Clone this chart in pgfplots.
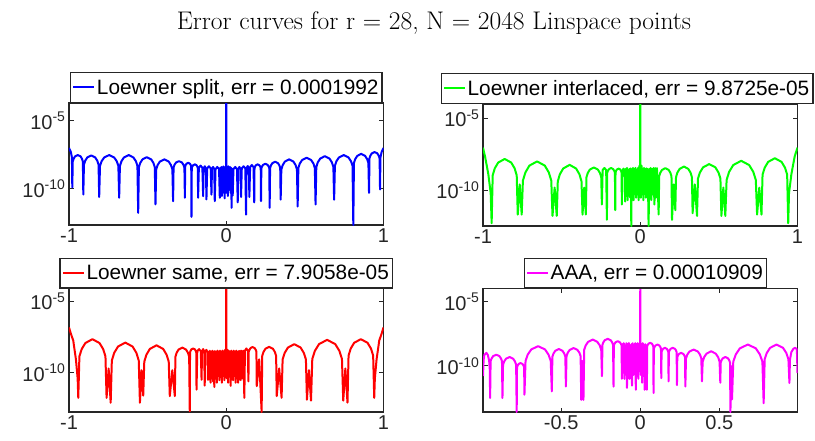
\documentclass[border=0pt]{standalone}
\usepackage{fontspec}
\setsansfont{Liberation Sans}
\usepackage{pgfplots}
\pgfplotsset{compat=1.18}
\definecolor{axc}{rgb}{0.15,0.15,0.15}
\definecolor{mblue}{rgb}{0,0,1}
\definecolor{mgreen}{rgb}{0,1,0}
\definecolor{mred}{rgb}{1,0,0}
\definecolor{mmag}{rgb}{1,0,1}
\pgfplotsset{
  every axis/.append style={
    scale only axis, width=314.5pt,
    yminorticks=false, xminorticks=false,
    axis line style={draw=axc, line width=1.4pt},
    tick style={draw=axc, line width=1pt},
    major tick length=4.5pt,
    tick label style={font=\sffamily\fontsize{20}{24}\selectfont, text=axc},
    legend cell align=left,
  },
  every axis legend/.append style={font=\sffamily\fontsize{20.8}{24}\selectfont, draw=axc, line width=1.3pt, fill=white, inner sep=2pt, nodes={inner xsep=1.5pt, inner ysep=4.8pt}},
  legend image code/.code={\draw[#1,mark=none] (0pt,0pt) -- (21pt,0pt);},
}
\begin{document}
\begin{tikzpicture}
\useasboundingbox (0pt,0pt) rectangle (815pt,-441pt);
\node[font=\rmfamily\fontsize{25.5}{30}\selectfont, anchor=base] at (434pt,-30pt) {Error curves for r = 28, N = 2048 Linspace points};

% ---------------- top left: Loewner split ----------------
\begin{axis}[ymode=log, at={(69pt,-225pt)}, anchor=south west, height=122pt,
  xmin=-1, xmax=1, ymin=2.2e-13, ymax=1.992e-4,
  ytick={1e-10,1e-5}, yticklabels={10\textsuperscript{-10},10\textsuperscript{-5}},
  xtick={-1,0,1}, xticklabels={-1,0,1},
  legend style={at={(0.5,1)}, anchor=south}]
\addplot[mark=none, line width=2pt, line join=round, mblue] coordinates {
(-1,1.0e-7) (-0.988,5e-8) (-0.9815,2e-8) (-0.979,1.26e-10)
(-0.9762,1.0e-8) (-0.9706,1.6e-8) (-0.9615,2.4e-8) (-0.944,3.0e-8) (-0.9265,2.4e-8) (-0.9174,1.6e-8) (-0.9118,1.0e-8) (-0.909,3.8e-11)
(-0.905,5.9e-9) (-0.8969,1.15e-8) (-0.8837,2.0e-8) (-0.8585,2.8e-8) (-0.8333,2.0e-8) (-0.8201,1.15e-8) (-0.812,5.9e-9) (-0.808,2.5e-11)
(-0.8029,4.8e-9) (-0.7928,1.05e-8) (-0.7762,2.0e-8) (-0.7445,3.0e-8) (-0.7128,2.0e-8) (-0.6962,1.05e-8) (-0.6861,4.8e-9) (-0.681,2.2e-11)
(-0.6762,4.8e-9) (-0.6665,1.05e-8) (-0.6508,2.0e-8) (-0.6205,3.0e-8) (-0.5903,2.0e-8) (-0.5745,1.05e-8) (-0.5648,4.8e-9) (-0.560,1.7e-12)
(-0.5556,3.8e-9) (-0.5468,8.0e-9) (-0.5325,1.45e-8) (-0.505,2.1e-8) (-0.4775,1.45e-8) (-0.4632,8.0e-9) (-0.4544,3.8e-9) (-0.450,7.1e-12)
(-0.4455,2.6e-9) (-0.4366,5.5e-9) (-0.422,1.0e-8) (-0.394,1.45e-8) (-0.366,1.0e-8) (-0.3514,5.5e-9) (-0.3425,2.6e-9) (-0.338,1.23e-11)
(-0.335,3.6e-9) (-0.329,5.8e-9) (-0.3193,8.5e-9) (-0.3005,1.07e-8) (-0.2818,8.5e-9) (-0.272,5.8e-9) (-0.266,3.6e-9) (-0.263,2.2e-11)
(-0.2613,4.2e-9) (-0.258,5.6e-9) (-0.2525,7.0e-9) (-0.242,8.1e-9) (-0.2315,7.0e-9) (-0.226,5.6e-9) (-0.2227,4.2e-9) (-0.221,8.7e-13)
(-0.2193,3.2e-9) (-0.216,4.3e-9) (-0.2105,5.4e-9) (-0.2,6.2e-9) (-0.1895,5.4e-9) (-0.184,4.3e-9) (-0.1807,3.2e-9) (-0.179,2.2e-11)
(-0.1742,3.5e-9) (-0.163,5e-9) (-0.1518,3.5e-9) (-0.147,2.9e-11)
(-0.1439,3.2e-9) (-0.1365,4.5e-9) (-0.1292,3.2e-9) (-0.126,1.66e-11)
(-0.1212,3.2e-9) (-0.11,4.5e-9) (-0.0988,3.2e-9) (-0.094,3.8e-11)
(-0.0909,2.8e-9) (-0.0835,4e-9) (-0.0761,2.8e-9) (-0.073,1.26e-11)
(-0.0682,2.8e-9) (-0.057,4e-9) (-0.0458,2.8e-9) (-0.041,2.2e-11)
(-0.037,3.5e-9) (-0.034,8e-11) (-0.031,4e-9) (-0.028,3e-11) (-0.025,3e-9) (-0.022,1e-10) (-0.019,4.5e-9) (-0.016,5e-11) (-0.013,3.5e-9) (-0.010,2e-11) (-0.007,4e-9) (-0.004,6e-11) (-0.001,2e-9)
(0,1.992e-4)
(0.001,2e-9) (0.004,5e-11) (0.007,4e-9) (0.010,3e-11) (0.013,4.5e-9) (0.016,8e-11) (0.019,3.5e-9) (0.022,1e-10) (0.025,4e-9) (0.028,5e-11) (0.031,3.5e-9) (0.034,4e-12) (0.037,3e-9) (0.041,3.2e-11)
(0.0458,2.8e-9) (0.057,4e-9) (0.0682,2.8e-9) (0.073,1e-11)
(0.0761,2.8e-9) (0.0835,4e-9) (0.0909,2.8e-9) (0.094,2.5e-11)
(0.0988,3.2e-9) (0.11,4.5e-9) (0.1212,3.2e-9) (0.126,1.26e-12)
(0.1292,3.3e-9) (0.1365,4.7e-9) (0.1439,3.3e-9) (0.147,2.5e-11)
(0.1517,3.9e-9) (0.1625,5.6e-9) (0.1734,3.9e-9) (0.178,1e-11)
(0.1797,3.2e-9) (0.1832,4.3e-9) (0.1888,5.4e-9) (0.1995,6.2e-9) (0.2103,5.4e-9) (0.2158,4.3e-9) (0.2193,3.2e-9) (0.221,1.23e-11)
(0.2232,3.2e-9) (0.2276,4.4e-9) (0.2348,5.8e-9) (0.2485,6.9e-9) (0.2623,5.8e-9) (0.2694,4.4e-9) (0.2738,3.2e-9) (0.276,4e-12)
(0.2788,3.3e-9) (0.2844,5.3e-9) (0.2935,7.7e-9) (0.311,9.8e-9) (0.3285,7.7e-9) (0.3376,5.3e-9) (0.3432,3.3e-9) (0.346,1.6e-11)
(0.3503,2.6e-9) (0.359,5.5e-9) (0.373,1.0e-8) (0.4,1.45e-8) (0.427,1.0e-8) (0.441,5.5e-9) (0.4497,2.6e-9) (0.454,5e-12)
(0.4586,3.4e-9) (0.4677,7.2e-9) (0.4825,1.3e-8) (0.511,1.9e-8) (0.5395,1.3e-8) (0.5543,7.2e-9) (0.5634,3.4e-9) (0.568,7.1e-12)
(0.5727,4e-9) (0.5822,8.8e-9) (0.5975,1.65e-8) (0.627,2.5e-8) (0.6565,1.65e-8) (0.6718,8.8e-9) (0.6813,4e-9) (0.686,1.6e-11)
(0.6909,4.8e-9) (0.7006,1.05e-8) (0.7165,2.0e-8) (0.747,3.0e-8) (0.7775,2.0e-8) (0.7934,1.05e-8) (0.8031,4.8e-9) (0.808,2.2e-13)
(0.812,7.8e-9) (0.82,1.5e-8) (0.833,2.6e-8) (0.858,3.7e-8) (0.883,2.6e-8) (0.896,1.5e-8) (0.904,7.8e-9) (0.908,5e-11)
(0.9108,1.7e-8) (0.9164,2.7e-8) (0.9255,4e-8) (0.943,5e-8) (0.9605,4e-8) (0.9696,2.7e-8) (0.9752,1.7e-8) (0.978,8.9e-11)
(0.9805,2e-8) (0.988,5e-8) (1,1.0e-7)
};
\addlegendentry{Loewner split, err = 0.0001992}
\end{axis}

% ---------------- top right: Loewner interlaced ----------------
\begin{axis}[ymode=log, at={(483pt,-226pt)}, anchor=south west, height=122pt,
  xmin=-1, xmax=1, ymin=3.2e-13, ymax=9.8725e-5,
  ytick={1e-10,1e-5}, yticklabels={10\textsuperscript{-10},10\textsuperscript{-5}},
  xtick={-1,0,1}, xticklabels={-1,0,1},
  legend style={at={(1,1)}, anchor=south east, xshift=16pt}]
\addplot[mark=none, line width=2pt, line join=round, mgreen] coordinates {
(-1,9.1e-8) (-0.987,2.2e-8) (-0.976,5e-9) (-0.966,1.26e-9) (-0.951,6e-11) (-0.945,5e-13)
(-0.9384,1.07e-9) (-0.9251,3.3e-9) (-0.9035,8.3e-9) (-0.862,1.48e-8) (-0.8205,8.3e-9) (-0.7989,3.3e-9) (-0.7856,1.07e-9) (-0.779,2e-12) (-0.7665,2.5e-10) (-0.754,2e-12)
(-0.7462,4.6e-10) (-0.7305,1.7e-9) (-0.705,5.1e-9) (-0.656,1e-8) (-0.607,5.1e-9) (-0.5815,1.7e-9) (-0.5658,4.6e-10) (-0.558,1.6e-12) (-0.5445,1.5e-10) (-0.531,1.6e-12)
(-0.5244,4.1e-10) (-0.5113,1.27e-9) (-0.49,3.2e-9) (-0.449,5.75e-9) (-0.408,3.2e-9) (-0.3867,1.27e-9) (-0.3736,4.1e-10) (-0.367,2e-12) (-0.3565,1.5e-10) (-0.346,2e-12)
(-0.3419,8e-10) (-0.3338,1.56e-9) (-0.3205,2.7e-9) (-0.295,3.8e-9) (-0.2695,2.7e-9) (-0.2562,1.56e-9) (-0.2481,8e-10) (-0.244,1e-11)
(-0.2392,2.5e-9) (-0.228,3.5e-9) (-0.2168,2.5e-9) (-0.212,8.7e-13)
(-0.2099,1.65e-9) (-0.2056,2.2e-9) (-0.1988,2.9e-9) (-0.1855,3.5e-9) (-0.1723,2.9e-9) (-0.1654,2.2e-9) (-0.1611,1.65e-9) (-0.159,4e-12)
(-0.1573,1.64e-9) (-0.154,2.2e-9) (-0.1485,2.75e-9) (-0.138,3.16e-9) (-0.1275,2.75e-9) (-0.122,2.2e-9) (-0.1187,1.64e-9) (-0.117,1e-11)
(-0.1139,2.2e-9) (-0.1065,3.16e-9) (-0.0992,2.2e-9) (-0.096,1.6e-11)
(-0.092,3e-9) (-0.088,4e-11) (-0.084,3.5e-9) (-0.080,2e-11) (-0.076,2.5e-9) (-0.072,6e-11) (-0.068,3e-9) (-0.064,3e-11) (-0.060,3.3e-9) (-0.057,3.2e-13) (-0.054,2.5e-9) (-0.050,5e-11) (-0.046,3.5e-9) (-0.042,2e-11) (-0.038,3e-9) (-0.034,8e-11) (-0.030,3.5e-9) (-0.026,3e-11) (-0.022,2.5e-9) (-0.018,5e-11) (-0.014,3.5e-9) (-0.010,2e-11) (-0.006,5e-9) (-0.003,4e-11) (-0.001,6e-9)
(0,9.8725e-5)
(0.001,6e-9) (0.004,3e-11) (0.008,5e-9) (0.012,5e-11) (0.016,3e-9) (0.020,2e-11) (0.024,3.5e-9) (0.028,6e-11) (0.032,3e-9) (0.036,3e-11) (0.040,3.3e-9) (0.044,5e-11) (0.048,3e-9) (0.053,3.2e-13) (0.058,3e-9) (0.062,4e-11) (0.066,3.5e-9) (0.070,2e-11) (0.075,3e-9) (0.080,5e-11) (0.085,3.5e-9) (0.090,1e-11) (0.096,3.4e-9) (0.100,3e-11) (0.106,3.4e-9) (0.112,1e-10) (0.117,2e-12)
(0.1204,9.2e-10) (0.1272,1.6e-9) (0.1383,2.55e-9) (0.1595,3.4e-9) (0.1808,2.55e-9) (0.1918,1.6e-9) (0.1986,9.2e-10) (0.202,8.7e-13) (0.2125,2.5e-10) (0.223,4e-12)
(0.2274,7.9e-10) (0.2362,1.67e-9) (0.2505,3.0e-9) (0.278,4.4e-9) (0.3055,3.0e-9) (0.3198,1.67e-9) (0.3286,7.9e-10) (0.333,2.5e-12) (0.347,2.5e-10) (0.361,1.6e-12)
(0.3672,6.5e-10) (0.3796,1.7e-9) (0.3998,3.9e-9) (0.4385,6.5e-9) (0.4773,3.9e-9) (0.4974,1.7e-9) (0.5098,6.5e-10) (0.516,1.6e-12) (0.5285,1.5e-10) (0.541,1.6e-12)
(0.5491,5.1e-10) (0.5652,1.87e-9) (0.5915,5.6e-9) (0.642,1.1e-8) (0.6925,5.6e-9) (0.7188,1.87e-9) (0.7349,5.1e-10) (0.743,2e-12) (0.757,1.5e-10) (0.771,2e-12)
(0.7778,1.2e-9) (0.7914,3.65e-9) (0.8135,9.3e-9) (0.856,1.66e-8) (0.8985,9.3e-9) (0.9206,3.65e-9) (0.9342,1.2e-9) (0.941,5e-13)
(0.946,6e-11) (0.961,1.26e-9) (0.971,5e-9) (0.982,2.2e-8) (1,9.1e-8)
};
\addlegendentry{Loewner interlaced, err = 9.8725e-05}
\end{axis}

% ---------------- bottom left: Loewner same ----------------
\begin{axis}[ymode=log, at={(69pt,-412pt)}, anchor=south west, height=123.5pt,
  xmin=-1, xmax=1, ymin=1.78e-13, ymax=7.9058e-5,
  ytick={1e-10,1e-5}, yticklabels={10\textsuperscript{-10},10\textsuperscript{-5}},
  xtick={-1,0,1}, xticklabels={-1,0,1},
  legend style={at={(0.5,1)}, anchor=south}]
\addplot[mark=none, line width=2pt, line join=round, mred] coordinates {
(-1,1.48e-7) (-0.987,5e-8) (-0.973,1.8e-8) (-0.956,8.7e-10) (-0.945,4e-11) (-0.941,1.74e-12)
(-0.9338,1.4e-9) (-0.9194,4.5e-9) (-0.896,1.2e-8) (-0.851,2.24e-8) (-0.806,1.2e-8) (-0.7826,4.5e-9) (-0.7682,1.4e-9) (-0.761,1.74e-12) (-0.748,2e-10) (-0.735,7.9e-13)
(-0.7276,7.1e-10) (-0.7127,2.45e-9) (-0.6885,6.8e-9) (-0.642,1.29e-8) (-0.5955,6.8e-9) (-0.5713,2.45e-9) (-0.5564,7.1e-10) (-0.549,7.9e-13) (-0.5385,1.5e-10) (-0.528,2.5e-12)
(-0.5212,6e-10) (-0.5077,1.83e-9) (-0.4858,4.65e-9) (-0.4435,8.3e-9) (-0.4013,4.65e-9) (-0.3793,1.83e-9) (-0.3658,6e-10) (-0.359,2.3e-12) (-0.343,1.5e-10) (-0.327,2.3e-12)
(-0.3232,1.3e-9) (-0.3156,2.5e-9) (-0.3033,4.2e-9) (-0.2795,5.75e-9) (-0.2558,4.2e-9) (-0.2434,2.5e-9) (-0.2358,1.3e-9) (-0.232,2e-13)
(-0.2303,2.6e-9) (-0.2268,3.45e-9) (-0.2213,4.35e-9) (-0.2105,5e-9) (-0.1998,4.35e-9) (-0.1942,3.45e-9) (-0.1907,2.6e-9) (-0.189,6.6e-12)
(-0.1842,3.2e-9) (-0.173,4.5e-9) (-0.1618,3.2e-9) (-0.157,3.2e-11)
(-0.154,3.2e-9) (-0.147,4.5e-9) (-0.14,3.2e-9) (-0.137,1.26e-11)
(-0.1339,2.8e-9) (-0.1265,4e-9) (-0.1192,2.8e-9) (-0.116,3.2e-11)
(-0.112,3e-9) (-0.108,5e-11) (-0.104,3.5e-9) (-0.100,2e-11) (-0.096,3e-9) (-0.092,6e-11) (-0.088,3.5e-9) (-0.084,2.5e-11) (-0.080,3e-9) (-0.076,1e-11) (-0.072,3.3e-9) (-0.068,4e-11) (-0.064,3e-9) (-0.060,2e-11) (-0.056,3.5e-9) (-0.052,6e-11) (-0.048,3e-9) (-0.044,3e-11) (-0.040,3.5e-9) (-0.036,5e-11) (-0.032,3e-9) (-0.028,2e-11) (-0.024,3.5e-9) (-0.020,6e-11) (-0.016,3e-9) (-0.012,3e-11) (-0.008,4e-9) (-0.004,5e-11) (-0.001,5e-9)
(0,7.9058e-5)
(0.001,5e-9) (0.004,4e-11) (0.008,4e-9) (0.012,2e-11) (0.016,3.5e-9) (0.020,6e-11) (0.024,3e-9) (0.028,1.2e-11) (0.032,3.5e-9) (0.036,5e-11) (0.040,3e-9) (0.044,3e-11) (0.048,3.5e-9) (0.052,6e-11) (0.056,3e-9) (0.060,2e-11) (0.064,3.5e-9) (0.068,5e-11) (0.072,3e-9) (0.076,2e-11) (0.080,3.3e-9) (0.084,6e-11) (0.088,3.5e-9) (0.092,3e-11) (0.098,3.5e-9) (0.104,4e-11) (0.109,3.5e-9) (0.115,1.74e-12)
(0.1189,3.5e-9) (0.128,5e-9) (0.1371,3.5e-9) (0.141,2.5e-11)
(0.1431,3e-9) (0.1474,4e-9) (0.1543,5.3e-9) (0.1675,6.3e-9) (0.1808,5.3e-9) (0.1876,4e-9) (0.1919,3e-9) (0.194,1.15e-11) (0.2095,8.7e-10) (0.225,1.8e-13)
(0.2288,1.5e-9) (0.2365,2.8e-9) (0.249,4.75e-9) (0.273,6.5e-9) (0.297,4.75e-9) (0.3095,2.8e-9) (0.3172,1.5e-9) (0.321,2.3e-12) (0.3365,2e-10) (0.352,1.74e-12)
(0.3584,8.5e-10) (0.3713,2.4e-9) (0.3923,5.8e-9) (0.4325,1e-8) (0.4728,5.8e-9) (0.4937,2.4e-9) (0.5066,8.5e-10) (0.513,1.3e-12) (0.526,1.5e-10) (0.539,1.1e-12)
(0.5472,9.2e-10) (0.5636,3.4e-9) (0.5903,1.02e-8) (0.6415,2e-8) (0.6928,1.02e-8) (0.7194,3.4e-9) (0.7358,9.2e-10) (0.744,1.1e-12) (0.7575,2e-10) (0.771,8e-13)
(0.7778,1.6e-9) (0.7914,4.9e-9) (0.8135,1.25e-8) (0.856,2.24e-8) (0.8985,1.25e-8) (0.9206,4.9e-9) (0.9342,1.6e-9) (0.941,1.74e-12)
(0.945,4e-11) (0.956,8.7e-10) (0.973,1.8e-8) (0.987,5e-8) (1,1.48e-7)
};
\addlegendentry{Loewner same, err = 7.9058e-05}
\end{axis}

% ---------------- bottom right: AAA ----------------
\begin{axis}[ymode=log, at={(483pt,-412pt)}, anchor=south west, height=123.5pt,
  xmin=-0.994, xmax=0.994, ymin=2.6e-14, ymax=1.0909e-4,
  ytick={1e-10,1e-5}, yticklabels={10\textsuperscript{-10},10\textsuperscript{-5}},
  xtick={-0.5,0,0.5}, xticklabels={-0.5,0,0.5},
  legend style={at={(0.5,1)}, anchor=south, xshift=5pt}]
\addplot[mark=none, line width=2pt, line join=round, mmag] coordinates {
(-0.994,1.6e-11) (-0.99,3e-10) (-0.985,7.6e-10) (-0.972,1.05e-9) (-0.963,7e-10) (-0.955,2.5e-10) (-0.951,5e-11) (-0.949,3.2e-13)
(-0.9459,2.4e-10) (-0.9396,3.9e-10) (-0.9295,5.9e-10) (-0.91,7.6e-10) (-0.8905,5.9e-10) (-0.8804,3.9e-10) (-0.8741,2.4e-10) (-0.871,3.2e-13)
(-0.8674,1.25e-10) (-0.8602,2.25e-10) (-0.8485,3.7e-10) (-0.826,5e-10) (-0.8035,3.7e-10) (-0.7918,2.25e-10) (-0.7846,1.25e-10) (-0.781,2.6e-14)
(-0.779,8e-11) (-0.7751,1.09e-10) (-0.7688,1.43e-10) (-0.7565,1.7e-10) (-0.7443,1.43e-10) (-0.7379,1.09e-10) (-0.734,8e-11) (-0.732,5.75e-13)
(-0.7251,2.5e-10) (-0.7112,7.7e-10) (-0.6888,1.96e-9) (-0.6455,3.5e-9) (-0.6023,1.96e-9) (-0.5798,7.7e-10) (-0.5659,2.5e-10) (-0.559,1.05e-12)
(-0.5554,5.3e-10) (-0.5483,9.5e-10) (-0.5368,1.55e-9) (-0.5145,2.1e-9) (-0.4923,1.55e-9) (-0.4807,9.5e-10) (-0.4736,5.3e-10) (-0.470,2.5e-12)
(-0.4661,5.8e-10) (-0.4584,1.08e-9) (-0.4458,1.8e-9) (-0.4215,2.5e-9) (-0.3973,1.8e-9) (-0.3846,1.08e-9) (-0.3769,5.8e-10) (-0.373,2.3e-13) (-0.366,2.5e-10) (-0.359,2.3e-13)
(-0.3543,1.84e-9) (-0.345,4e-9) (-0.3298,7.6e-9) (-0.3005,1.15e-8) (-0.2713,7.6e-9) (-0.256,4e-9) (-0.2467,1.84e-9) (-0.242,1.6e-11)
(-0.2391,4.4e-9) (-0.2332,7e-9) (-0.2238,1.03e-8) (-0.2055,1.3e-8) (-0.1873,1.03e-8) (-0.1778,7e-9) (-0.1719,4.4e-9) (-0.169,2.5e-12)
(-0.1669,4e-9) (-0.1626,5.4e-9) (-0.1558,7.1e-9) (-0.1425,8.5e-9) (-0.1293,7.1e-9) (-0.1224,5.4e-9) (-0.1181,4e-9) (-0.116,1e-11)
(-0.112,5e-9) (-0.108,3e-11) (-0.104,6e-9) (-0.100,1e-11) (-0.096,4e-9) (-0.092,5e-11) (-0.088,6e-9) (-0.084,2e-12) (-0.080,5e-9) (-0.076,3e-11) (-0.072,6.3e-9) (-0.068,1e-11) (-0.064,4e-9) (-0.060,4e-11) (-0.056,5e-9) (-0.052,3e-12) (-0.048,6e-9) (-0.044,2e-11) (-0.040,4.5e-9) (-0.036,6e-11) (-0.032,6e-9) (-0.028,1.4e-12) (-0.024,5e-9) (-0.020,3e-11) (-0.016,6e-9) (-0.012,1e-11) (-0.008,5e-9) (-0.004,4e-11) (-0.001,6e-9)
(0,1.0909e-4)
(0.001,6e-9) (0.004,2e-11) (0.008,5e-9) (0.012,5e-12) (0.016,6e-9) (0.020,3e-11) (0.024,4.5e-9) (0.028,1.4e-12) (0.032,5e-9) (0.036,2e-11) (0.039,4e-9) (0.042,1.4e-12)
(0.0437,3.3e-9) (0.047,4.35e-9) (0.0525,5.5e-9) (0.063,6.3e-9) (0.0735,5.5e-9) (0.079,4.35e-9) (0.0823,3.3e-9) (0.084,7.9e-13)
(0.086,2.2e-9) (0.0899,3e-9) (0.0963,3.95e-9) (0.1085,4.7e-9) (0.1208,3.95e-9) (0.1271,3e-9) (0.131,2.2e-9) (0.133,1.15e-11)
(0.1348,1.22e-9) (0.1385,1.66e-9) (0.1445,2.2e-9) (0.156,2.6e-9) (0.1675,2.2e-9) (0.1735,1.66e-9) (0.1772,1.22e-9) (0.179,6.3e-12)
(0.1811,1.22e-9) (0.1854,1.66e-9) (0.1923,2.2e-9) (0.2055,2.6e-9) (0.2188,2.2e-9) (0.2256,1.66e-9) (0.2299,1.22e-9) (0.232,3.2e-12)
(0.2341,4.9e-10) (0.2384,6.7e-10) (0.2453,8.8e-10) (0.2585,1.05e-9) (0.2718,8.8e-10) (0.2786,6.7e-10) (0.2829,4.9e-10) (0.285,2.5e-12)
(0.2892,4e-10) (0.2976,7.8e-10) (0.3113,1.35e-9) (0.3375,1.9e-9) (0.3638,1.35e-9) (0.3774,7.8e-10) (0.3858,4e-10) (0.39,6.3e-12)
(0.3946,2.2e-10) (0.4039,4.9e-10) (0.419,9.2e-10) (0.448,1.4e-9) (0.477,9.2e-10) (0.4921,4.9e-10) (0.5014,2.2e-10) (0.506,5e-12)
(0.5086,1.85e-10) (0.5137,2.8e-10) (0.522,4e-10) (0.538,5e-10) (0.554,4e-10) (0.5623,2.8e-10) (0.5674,1.85e-10) (0.57,2.6e-14) (0.575,1e-10) (0.58,2.5e-13)
(0.588,2.2e-10) (0.604,8e-10) (0.63,2.4e-9) (0.68,4.7e-9) (0.73,2.4e-9) (0.756,8e-10) (0.772,2.2e-10) (0.78,1.26e-13)
(0.7865,3.4e-10) (0.7996,1.03e-9) (0.8208,2.6e-9) (0.8615,4.7e-9) (0.9023,2.6e-9) (0.9234,1.03e-9) (0.9365,3.4e-10) (0.943,4.7e-12)
(0.946,3e-10) (0.955,1.2e-9) (0.968,2.2e-9) (0.98,2.6e-9) (0.99,2e-9) (0.994,2.8e-11)
};
\addlegendentry{AAA, err = 0.00010909}
\end{axis}
\end{tikzpicture}
\end{document}
